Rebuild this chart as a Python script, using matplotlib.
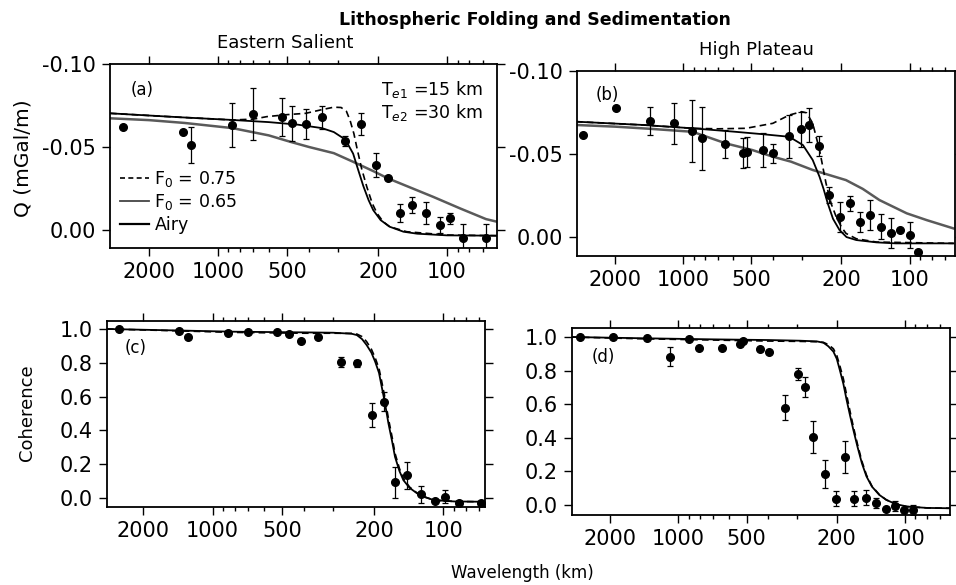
import numpy as np
import matplotlib
matplotlib.use("Agg")
import matplotlib.pyplot as plt
from matplotlib.ticker import FixedLocator, FormatStrFormatter, NullFormatter, LogLocator

plt.rcParams['font.family'] = ['DejaVu Sans']
plt.rcParams['axes.unicode_minus'] = False

# ---- data ----
# (a) Eastern Salient admittance
lam_a = [2592, 1417, 1312, 866, 706, 527, 474, 414, 352, 278, 237, 204, 181.5, 160, 142, 123.6, 107.3, 97, 84.9, 67.6]
q_a = [-0.0622, -0.0592, -0.0512, -0.0633, -0.0697, -0.0679, -0.0643, -0.0637, -0.0679, -0.0536,
       -0.0639, -0.0392, -0.0311, -0.0104, -0.0151, -0.0101, -0.0030, -0.0070, 0.0046, 0.0046]
err_a = [0, 0, 0.011, 0.013, 0.0156, 0.0115, 0.0105, 0.009, 0.007, 0.003,
         0.0065, 0.007, 0, 0.0055, 0.005, 0.0065, 0.005, 0.0035, 0.008, 0.008]

airy_a_lam = [2960, 2000, 1400, 866, 600, 485, 400, 312, 257, 210, 181, 136, 115, 87.6, 67.6, 60.5]
airy_a_q = [-0.0673, -0.0662, -0.0645, -0.0614, -0.0570, -0.0532, -0.0500, -0.0463, -0.0411,
            -0.0355, -0.0311, -0.0241, -0.0200, -0.0130, -0.0066, -0.0050]
f065_a_lam = [2960, 1500, 866, 600, 450, 352, 312, 278, 257, 244, 232, 220, 210, 195, 178, 155, 135, 100, 60.5]
f065_a_q = [-0.0703, -0.0680, -0.0663, -0.0650, -0.0635, -0.0614, -0.0590, -0.0545, -0.0460, -0.0360,
            -0.0265, -0.0180, -0.0120, -0.0060, -0.0020, 0.0010, 0.0022, 0.0032, 0.0034]
f075_a_lam = [2960, 1500, 866, 700, 612, 500, 414, 352, 312, 290, 275, 265, 255, 247, 236, 224,
              212, 202, 190, 178, 150, 100, 60.5]
f075_a_q = [-0.0703, -0.0680, -0.0663, -0.0668, -0.0683, -0.0695, -0.0703, -0.0725, -0.0740, -0.0738,
            -0.0715, -0.0660, -0.0580, -0.0490, -0.0370, -0.0260, -0.0160, -0.0100, -0.0050, -0.0020,
            0.0010, 0.0030, 0.0034]

# (b) High Plateau admittance
lam_b = [2761, 1985, 1404, 1096, 919, 827, 654, 546, 523, 443, 402, 340, 301, 277, 252, 227.5,
         202.5, 184, 166, 149, 133.5, 120.5, 110.7, 100, 91.8]
q_b = [-0.0614, -0.0775, -0.0699, -0.0685, -0.0639, -0.0594, -0.0560, -0.0504, -0.0514, -0.0524,
       -0.0504, -0.0608, -0.0649, -0.0675, -0.0550, -0.0253, -0.0122, -0.0203, -0.0092, -0.0133,
       -0.0062, -0.0022, -0.0042, -0.0012, 0.0089]
err_b = [0, 0, 0.0085, 0.0125, 0.0186, 0.019, 0.0085, 0.009, 0.009, 0.010, 0.0055, 0.013, 0.0105,
         0.0105, 0.006, 0.005, 0.009, 0.0045, 0.006, 0.009, 0.0075, 0.009, 0, 0.008, 0]

airy_b_lam = [2980, 2000, 1400, 910, 648, 495, 402, 334, 268, 227, 191, 161, 136, 103, 84, 64]
airy_b_q = [-0.0675, -0.0665, -0.0652, -0.0634, -0.0564, -0.0524, -0.0484, -0.0454, -0.0404,
            -0.0374, -0.0343, -0.0290, -0.0223, -0.0143, -0.0102, -0.0052]
f065_b_lam = [2980, 1500, 910, 600, 450, 340, 296, 268, 250, 240, 230, 218, 204, 190, 172, 140, 115, 64]
f065_b_q = [-0.0695, -0.0675, -0.0655, -0.0635, -0.0620, -0.0604, -0.0554, -0.0464, -0.0363, -0.0290,
            -0.0203, -0.0110, -0.0042, 0.0000, 0.0018, 0.0032, 0.0038, 0.0038]
f075_b_lam = [2980, 1500, 910, 700, 528, 402, 340, 300, 285, 268, 250, 234, 222, 211, 200, 191, 172, 140, 64]
f075_b_q = [-0.0695, -0.0675, -0.0655, -0.0652, -0.0655, -0.0685, -0.0735, -0.0755, -0.0748, -0.0685,
            -0.0524, -0.0323, -0.0200, -0.0122, -0.0060, -0.0022, 0.0010, 0.0030, 0.0038]

# (c) Eastern Salient coherence
lam_c = [2537, 1392, 1280, 858, 702, 528, 465, 412, 348, 278.6, 237, 204, 180.5, 161.8, 143.9,
         124.7, 108.4, 98, 85.2, 69]
coh_c = [0.998, 0.990, 0.955, 0.975, 0.980, 0.980, 0.968, 0.931, 0.955, 0.807, 0.797, 0.491, 0.570,
         0.093, 0.136, 0.022, -0.018, 0.008, -0.031, -0.031]
err_c = [0, 0, 0, 0, 0, 0, 0, 0, 0, 0.03, 0.02, 0.07, 0.055, 0.09, 0.08, 0.05, 0, 0.04, 0, 0]

f065_c_lam = [2870, 1500, 816, 400, 300, 250, 237, 225, 215, 205, 197.5, 190, 185, 179, 173, 167,
              162, 155, 149, 140, 130, 120, 110, 90, 66]
f065_c_coh = [1.0, 0.992, 0.984, 0.980, 0.978, 0.972, 0.964, 0.940, 0.905, 0.860, 0.807, 0.740, 0.659,
              0.560, 0.442, 0.340, 0.244, 0.160, 0.106, 0.060, 0.028, 0.005, -0.012, -0.020, -0.022]
f075_c_lam = [2870, 1500, 816, 400, 300, 250, 237, 225, 215, 205, 197.5, 190, 185, 179, 173, 167,
              162, 155, 149, 140, 130, 120, 110, 90, 66]
f075_c_coh = [1.0, 0.990, 0.980, 0.975, 0.975, 0.974, 0.970, 0.955, 0.925, 0.880, 0.830, 0.765, 0.690,
              0.590, 0.470, 0.365, 0.265, 0.175, 0.115, 0.065, 0.030, 0.006, -0.012, -0.020, -0.022]

# (d) High Plateau coherence
lam_d = [2702, 1940, 1374, 1084, 894, 813, 642, 533, 516, 435.5, 396, 340, 297, 276, 253.5, 226.5,
         201.4, 183.7, 167.2, 149, 134.3, 121.6, 110.7, 101, 92.5]
coh_d = [1.002, 1.0, 0.992, 0.883, 0.988, 0.933, 0.936, 0.958, 0.978, 0.929, 0.909, 0.58, 0.778,
         0.704, 0.407, 0.183, 0.036, 0.288, 0.036, 0.044, 0.01, -0.024, -0.006, -0.03, -0.03]
err_d = [0, 0, 0, 0.055, 0, 0, 0, 0, 0, 0, 0, 0.076, 0.035, 0.06, 0.095, 0.085, 0.045, 0.095, 0.045,
         0.045, 0.03, 0, 0.03, 0, 0.03]

f065_d_lam = [2940, 1500, 699, 400, 290, 245, 229, 218, 207, 200, 194, 187, 181, 175, 169, 162, 155,
              148, 140, 130, 121, 110, 98, 80, 63.4]
f065_d_coh = [1.0, 0.993, 0.986, 0.982, 0.978, 0.974, 0.966, 0.945, 0.913, 0.870, 0.804, 0.720, 0.625,
              0.535, 0.446, 0.345, 0.248, 0.170, 0.109, 0.060, 0.030, 0.005, -0.010, -0.018, -0.020]
f075_d_lam = [2940, 1500, 699, 400, 290, 245, 229, 218, 207, 200, 194, 187, 181, 175, 169, 162, 155,
              148, 140, 130, 121, 110, 98, 80, 63.4]
f075_d_coh = [1.0, 0.990, 0.982, 0.976, 0.974, 0.972, 0.968, 0.955, 0.930, 0.890, 0.830, 0.750, 0.655,
              0.560, 0.465, 0.360, 0.260, 0.178, 0.112, 0.062, 0.030, 0.005, -0.010, -0.018, -0.020]

xticks = [2000, 1000, 500, 200, 100]
xticklabels = ['2000', '1000', '500', '200', '100']

# ---- figure ----
fig = plt.figure(figsize=(9.56, 5.85), dpi=100)

ax_a = fig.add_axes([0.1151, 0.5761, 0.4048, 0.3145])
ax_b = fig.add_axes([0.6036, 0.5624, 0.3954, 0.3162])
ax_c = fig.add_axes([0.1119, 0.1333, 0.3954, 0.3179])
ax_d = fig.add_axes([0.5983, 0.1197, 0.3954, 0.3197])


def style_axis(ax, xlim, ylim, yticks, yfmt):
    ax.set_xscale('log')
    ax.set_xlim(*xlim)
    ax.set_ylim(*ylim)
    ax.xaxis.set_major_locator(FixedLocator(xticks))
    ax.set_xticklabels(xticklabels)
    ax.xaxis.set_minor_locator(LogLocator(base=10, subs=np.arange(2, 10)))
    ax.xaxis.set_minor_formatter(NullFormatter())
    ax.set_yticks(yticks)
    ax.yaxis.set_major_formatter(FormatStrFormatter(yfmt))
    ax.tick_params(which='both', direction='out', top=True, right=True, labelsize=15,
                   width=1.0, color='black')
    ax.tick_params(which='major', length=6, pad=4)
    ax.tick_params(which='minor', length=3)
    for sp in ax.spines.values():
        sp.set_linewidth(1.3)


def draw_points(ax, lam, val, err):
    ax.errorbar(lam, val, yerr=err, fmt='o', color='black', ms=5.5, capsize=2.5,
                elinewidth=0.9, capthick=0.9, zorder=5)


# (a)
ax_a.plot(airy_a_lam, airy_a_q, color='#5a5a5a', lw=1.8)
ax_a.plot(f065_a_lam, f065_a_q, color='black', lw=1.3)
ax_a.plot(f075_a_lam, f075_a_q, color='black', lw=1.2, ls=(0, (4, 2.5)))
draw_points(ax_a, lam_a, q_a, err_a)
style_axis(ax_a, (2960, 60.5), (0.0108, -0.1), [-0.10, -0.05, 0.00], '%.2f')
ax_a.text(0.083, 0.859, '(a)', transform=ax_a.transAxes, fontsize=12, ha='center', va='center')
ax_a.text(0.964, 0.859, r'T$_{e1}$ =15 km', transform=ax_a.transAxes, fontsize=12.5, ha='right', va='center')
ax_a.text(0.964, 0.734, r'T$_{e2}$ =30 km', transform=ax_a.transAxes, fontsize=12.5, ha='right', va='center')
h1, = ax_a.plot([], [], color='black', lw=1.2, ls=(0, (3, 2)))
h2, = ax_a.plot([], [], color='#444444', lw=1.3)
h3, = ax_a.plot([], [], color='black', lw=1.6)
ax_a.legend([h1, h2, h3], [r'F$_0$ = 0.75', r'F$_0$ = 0.65', 'Airy'], loc='upper left',
            bbox_to_anchor=(0.025, 0.43), frameon=False, fontsize=12.5, handlelength=1.7,
            handletextpad=0.3, labelspacing=0.2, borderaxespad=0, borderpad=0)

# (b)
ax_b.plot(airy_b_lam, airy_b_q, color='#5a5a5a', lw=1.8)
ax_b.plot(f065_b_lam, f065_b_q, color='black', lw=1.3)
ax_b.plot(f075_b_lam, f075_b_q, color='black', lw=1.2, ls=(0, (4, 2.5)))
draw_points(ax_b, lam_b, q_b, err_b)
style_axis(ax_b, (2946, 63), (0.0114, -0.1), [-0.10, -0.05, 0.00], '%.2f')
ax_b.text(0.079, 0.87, '(b)', transform=ax_b.transAxes, fontsize=12, ha='center', va='center')

# (c)
ax_c.plot(f075_c_lam, f075_c_coh, color='black', lw=1.2, ls=(0, (4, 2.5)))
ax_c.plot(f065_c_lam, f065_c_coh, color='black', lw=1.3)
draw_points(ax_c, lam_c, coh_c, err_c)
style_axis(ax_c, (2870, 66), (-0.053, 1.047), [0.0, 0.2, 0.4, 0.6, 0.8, 1.0], '%.1f')
ax_c.text(0.077, 0.855, '(c)', transform=ax_c.transAxes, fontsize=12, ha='center', va='center')

# (d)
ax_d.plot(f075_d_lam, f075_d_coh, color='black', lw=1.2, ls=(0, (4, 2.5)))
ax_d.plot(f065_d_lam, f065_d_coh, color='black', lw=1.3)
draw_points(ax_d, lam_d, coh_d, err_d)
style_axis(ax_d, (2940, 63.4), (-0.06, 1.054), [0.0, 0.2, 0.4, 0.6, 0.8, 1.0], '%.1f')
ax_d.text(0.082, 0.845, '(d)', transform=ax_d.transAxes, fontsize=12, ha='center', va='center')

# figure texts
fig.text(0.5597, 0.966, 'Lithospheric Folding and Sedimentation', fontsize=12.5,
         fontweight='bold', ha='center', va='center')
fig.text(0.298, 0.9265, 'Eastern Salient', fontsize=13, ha='center', va='center')
fig.text(0.791, 0.9145, 'High Plateau', fontsize=13, ha='center', va='center')
fig.text(0.024, 0.73, 'Q (mGal/m)', fontsize=14.5, rotation=90, ha='center', va='center')
fig.text(0.028, 0.294, 'Coherence', fontsize=13, rotation=90, ha='center', va='center')
fig.text(0.546, 0.0205, 'Wavelength (km)', fontsize=12, ha='center', va='center')

fig.savefig('out.png', dpi=100)
